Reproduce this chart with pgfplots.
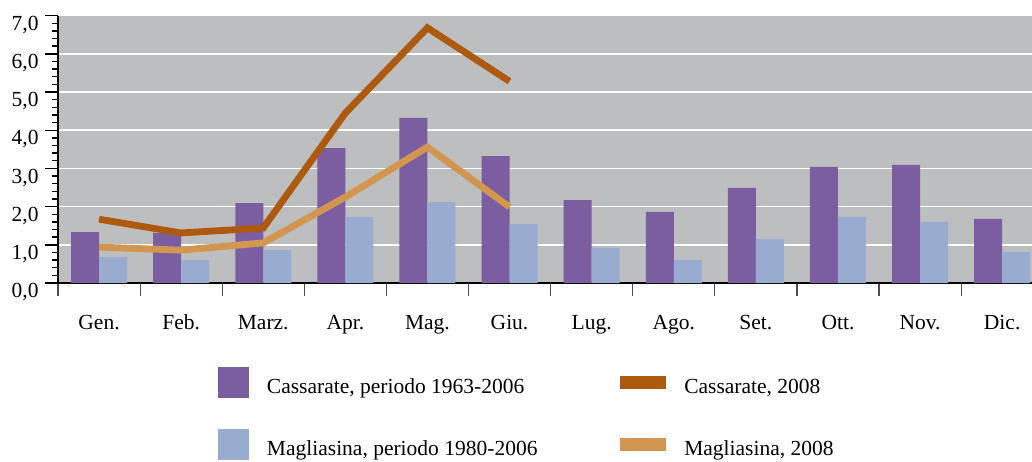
\documentclass[border=0pt]{standalone}
\usepackage{pgfplots}
\pgfplotsset{compat=1.18}
\usepackage{fontspec}
\setmainfont{Liberation Serif}
\definecolor{cpurple}{HTML}{7A5EA0}
\definecolor{cblue}{HTML}{99ACCF}
\definecolor{cbrown}{HTML}{AE5A0E}
\definecolor{ctan}{HTML}{D39650}
\definecolor{cgray}{HTML}{BDBEC0}
\begin{document}
\fontsize{10.75pt}{13pt}\selectfont
\begin{tikzpicture}
\begin{axis}[
  scale only axis, width=492.6pt, height=133.7pt,
  xmin=-0.5, xmax=11.5, ymin=0, ymax=7,
  axis background/.style={fill=cgray},
  axis x line*=bottom, axis y line*=left,
  x axis line style={black, line width=1.2pt, -},
  y axis line style={black, line width=1pt, -},
  xtick={-0.5,0.5,...,11.5}, x tick label as interval,
  xticklabels={Gen.,Feb.,Marz.,Apr.,Mag.,Giu.,Lug.,Ago.,Set.,Ott.,Nov.,Dic.},
  ytick={0,1,...,7}, minor y tick num=4,
  ymajorgrids, y grid style={white, line width=0.8pt},
  tick align=outside, major tick length=6.25pt, minor tick length=3pt,
  x tick style={black!70, line width=0.6pt},
  y tick style={black, line width=0.7pt},
  tick label style={font=\fontsize{10.75pt}{13pt}\selectfont},
  xticklabel style={yshift=-6pt},
  yticklabel style={anchor=north east, inner sep=0pt, xshift=-3.25pt,
    /pgf/number format/.cd, fixed, fixed zerofill, precision=1, use comma, assume math mode=true},
  legend style={at={(axis description cs:0.1624,-0.314)}, anchor=north west, draw=none, fill=none,
    inner sep=0pt, outer sep=0pt, row sep=15.5pt, nodes={inner sep=0pt, yshift=-2.75pt},
    font=\fontsize{10.75pt}{13pt}\selectfont,
    /tikz/every odd column/.append style={column sep=9pt},
    /tikz/every even column/.append style={column sep=41.5pt}},
  legend columns=2, transpose legend, legend cell align=left,
]
\addplot[ybar, bar width=14pt, bar shift=-7pt, fill=cpurple, draw=none,
  legend image code/.code={\fill[cpurple] (0pt,-7.75pt) rectangle (15.5pt,7.75pt);}]
  coordinates {(0,1.33) (1,1.31) (2,2.09) (3,3.53) (4,4.32) (5,3.32) (6,2.17) (7,1.86) (8,2.49) (9,3.04) (10,3.09) (11,1.68)};
\addlegendentry{Cassarate, periodo 1963-2006}
\addplot[ybar, bar width=14pt, bar shift=7pt, fill=cblue, draw=none,
  legend image code/.code={\fill[cblue] (0pt,-7.75pt) rectangle (15.5pt,7.75pt);}]
  coordinates {(0,0.68) (1,0.60) (2,0.86) (3,1.73) (4,2.12) (5,1.54) (6,0.92) (7,0.60) (8,1.15) (9,1.73) (10,1.60) (11,0.81)};
\addlegendentry{Magliasina, periodo 1980-2006}
\addplot[cbrown, line width=3.4pt, mark=none,
  legend image code/.code={\fill[cbrown] (0pt,-1.75pt) rectangle (19.5pt,1.75pt);}]
  coordinates {(0,1.67) (1,1.31) (2,1.44) (3,4.45) (4,6.68) (5,5.28)};
\addlegendentry{Cassarate, 2008}
\addplot[ctan, line width=3.4pt, mark=none,
  legend image code/.code={\fill[ctan] (0pt,-1.75pt) rectangle (19.5pt,1.75pt);}]
  coordinates {(0,0.94) (1,0.86) (2,1.05) (3,2.25) (4,3.56) (5,1.99)};
\addlegendentry{Magliasina, 2008}
\end{axis}
\pgfresetboundingbox
\path[use as bounding box] (-29pt,-89pt) rectangle (487pt,141.5pt);
\end{tikzpicture}
\end{document}
